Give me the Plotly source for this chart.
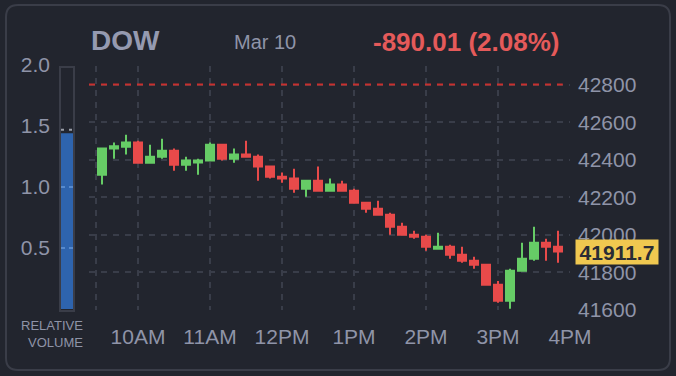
import plotly.graph_objects as go

# ---------------- data ----------------
day = "2025-03-10"
times = ["09:30", "09:40", "09:50", "10:00", "10:10", "10:20", "10:30", "10:40", "10:50",
         "11:00", "11:10", "11:20", "11:30", "11:40", "11:50", "12:00", "12:10", "12:20",
         "12:30", "12:40", "12:50", "13:00", "13:10", "13:20", "13:30", "13:40", "13:50",
         "14:00", "14:10", "14:20", "14:30", "14:40", "14:50", "15:00", "15:10", "15:20",
         "15:30", "15:40", "15:50"]
opens = [42321, 42460, 42470, 42492, 42385, 42417, 42449, 42374, 42386,
         42396, 42481, 42406, 42428, 42417, 42364, 42310, 42300, 42246,
         42289, 42236, 42268, 42236, 42172, 42140, 42108, 42044, 42001,
         41990, 41926, 41937, 41894, 41862, 41841, 41734, 41649, 41809,
         41873, 41958, 41937]
highs = [42460, 42492, 42534, 42502, 42481, 42513, 42460, 42417, 42406,
         42492, 42481, 42460, 42502, 42428, 42364, 42332, 42353, 42289,
         42364, 42300, 42289, 42246, 42172, 42182, 42118, 42065, 42022,
         42001, 42012, 41948, 41937, 41884, 41841, 41755, 41820, 41958,
         42044, 41980, 42022]
lows = [42268, 42406, 42428, 42385, 42385, 42406, 42342, 42342, 42321,
        42396, 42396, 42385, 42417, 42289, 42300, 42278, 42225, 42204,
        42236, 42236, 42236, 42172, 42118, 42108, 42001, 42001, 41980,
        41916, 41926, 41873, 41852, 41820, 41734, 41638, 41606, 41809,
        41862, 41862, 41852]
closes = [42460, 42472, 42492, 42385, 42417, 42449, 42374, 42396, 42396,
          42481, 42406, 42428, 42417, 42364, 42310, 42300, 42246, 42289,
          42236, 42268, 42236, 42172, 42140, 42108, 42044, 42001, 41990,
          41937, 41937, 41894, 41862, 41841, 41734, 41649, 41809, 41873,
          41958, 41937, 41911.7]

hour_ticks = ["09:25", "10:00", "11:00", "12:00", "13:00", "14:00", "15:00", "16:00"]
hour_labels = ["", "10AM", "11AM", "12PM", "1PM", "2PM", "3PM", "4PM"]
price_ticks = [41600, 41800, 42000, 42200, 42400, 42600, 42800]
price_labels = ["41600", "41800", "42000", "42200", "42400", "42600", "42800"]
vol_ticks = [0.5, 1.0, 1.5, 2.0]
vol_labels = ["0.5", "1.0", "1.5", "2.0"]
rel_volume = [1.44]
rel_volume_marker = 1.47
prev_close = 42801.71
last_price = 41911.7
change = -890.01
change_pct = 2.08
symbol = "DOW"
date_label = "Mar 10"

# ---------------- style ----------------
W, H = 676, 376
BG = "#22252e"
BORDER = "#3a3d48"
GRID = "#393d49"
LABEL = "#8f94a8"
GREEN = "#66cc66"
RED = "#e84a4a"
FONT = "Liberation Sans"


def fx(p):
    return p / W


def fy(p):
    return (H - p) / H


x_dates = [f"{day} {t}" for t in times]
tick_dates = [f"{day} {t}" for t in hour_ticks]

fig = go.Figure()
fig.add_trace(go.Candlestick(
    x=x_dates, open=opens, high=highs, low=lows, close=closes,
    increasing=dict(line=dict(color=GREEN, width=2), fillcolor=GREEN),
    decreasing=dict(line=dict(color=RED, width=2), fillcolor=RED),
    whiskerwidth=0, hoverinfo="skip", xaxis="x", yaxis="y", showlegend=False))

fig.add_trace(go.Bar(
    x=[0], y=rel_volume, width=0.75, marker=dict(color="#2e64ae", line=dict(width=0)),
    xaxis="x2", yaxis="y2", hoverinfo="skip", showlegend=False))

# rounded card path
x0, x1, y0, y1, r = 6, 670, 5, 370, 12
path = (f"M {fx(x0 + r)},{fy(y0)} L {fx(x1 - r)},{fy(y0)} "
        f"Q {fx(x1)},{fy(y0)} {fx(x1)},{fy(y0 + r)} "
        f"L {fx(x1)},{fy(y1 - r)} Q {fx(x1)},{fy(y1)} {fx(x1 - r)},{fy(y1)} "
        f"L {fx(x0 + r)},{fy(y1)} Q {fx(x0)},{fy(y1)} {fx(x0)},{fy(y1 - r)} "
        f"L {fx(x0)},{fy(y0 + r)} Q {fx(x0)},{fy(y0)} {fx(x0 + r)},{fy(y0)} Z")

shapes = [
    dict(type="path", path=path, xref="paper", yref="paper",
         line=dict(color=BORDER, width=2), layer="below"),
    dict(type="rect", xref="paper", yref="paper", x0=fx(60), x1=fx(74), y0=fy(311), y1=fy(67),
         line=dict(color=BORDER, width=2), layer="below"),
    dict(type="line", xref="paper", yref="y2", x0=fx(61), x1=fx(73), y0=1.0, y1=1.0,
         line=dict(color="rgba(110,160,225,0.85)", width=1.5, dash="4px,4px"), layer="above"),
    dict(type="line", xref="paper", yref="y2", x0=fx(61), x1=fx(73), y0=0.5, y1=0.5,
         line=dict(color="rgba(110,160,225,0.85)", width=1.5, dash="4px,4px"), layer="above"),
    dict(type="line", xref="paper", yref="y2", x0=fx(61), x1=fx(73),
         y0=rel_volume_marker, y1=rel_volume_marker,
         line=dict(color="#9a9ea8", width=2, dash="3px,5px"), layer="above"),
    dict(type="line", xref="x domain", yref="y", x0=0, x1=0.985, y0=prev_close, y1=prev_close,
         line=dict(color="#c8302e", width=2, dash="6px,6px"), layer="above"),
]

annotations = [
    dict(text=symbol, x=fx(89), y=fy(40), xref="paper", yref="paper", xanchor="left",
         yanchor="middle", showarrow=False,
         font=dict(family=FONT, size=28, color="#959ab0", weight="bold")),
    dict(text=date_label, x=fx(232), y=fy(42), xref="paper", yref="paper", xanchor="left",
         yanchor="middle", showarrow=False, font=dict(family=FONT, size=20, color=LABEL)),
    dict(text=f"{change:.2f} ({change_pct:.2f}%)", x=fx(371), y=fy(42), xref="paper",
         yref="paper", xanchor="left", yanchor="middle", showarrow=False,
         font=dict(family=FONT, size=26, color="#e55a5a", weight="bold")),
    dict(text="RELATIVE<br>VOLUME", x=fx(85), y=fy(334), xref="paper", yref="paper",
         xanchor="right", yanchor="middle", align="right", showarrow=False,
         font=dict(family=FONT, size=13, color=LABEL)),
    dict(text=f"{last_price}", x=fx(575), y=last_price, xref="paper", yref="y",
         xanchor="left", yanchor="middle", showarrow=False, bgcolor="#f0c850",
         borderpad=1, width=80, height=22,
         font=dict(family=FONT, size=21, color="#2a2c35", weight="bold")),
]

fig.update_layout(
    width=W, height=H, autosize=False,
    margin=dict(l=0, r=0, t=0, b=0, pad=0, autoexpand=False),
    paper_bgcolor=BG, plot_bgcolor="rgba(0,0,0,0)",
    boxgap=0.333, boxgroupgap=0,
    showlegend=False, shapes=shapes, annotations=annotations,
    font=dict(family=FONT, color=LABEL, size=21),
    xaxis=dict(type="date", domain=[fx(89), fx(570)],
               range=[f"{day} 09:19:10", f"{day} 16:00"],
               tickvals=tick_dates, ticktext=hour_labels, ticks="",
               showgrid=True, gridcolor=GRID, gridwidth=2, griddash="6px,6px",
               zeroline=False, showline=False, rangeslider=dict(visible=False),
               tickfont=dict(family=FONT, size=21, color=LABEL),
               ticklabelstandoff=12, anchor="y", automargin=False),
    yaxis=dict(domain=[fy(310), fy(66)], range=[41600, 42900], side="right",
               tickvals=price_ticks, ticktext=price_labels, ticks="", showgrid=True,
               gridcolor=GRID, gridwidth=2,
               griddash="6px,6px", zeroline=False, showline=False,
               tickfont=dict(family=FONT, size=21, color=LABEL),
               ticklabelstandoff=7, anchor="x", automargin=False),
    xaxis2=dict(domain=[fx(59), fx(75)], range=[-0.5, 0.5], visible=False, anchor="y2",
                automargin=False),
    yaxis2=dict(domain=[fy(309), fy(65)], range=[0, 2], side="left", tickvals=vol_ticks,
                ticktext=vol_labels, ticks="", showgrid=False, zeroline=False, showline=False,
                tickfont=dict(family=FONT, size=21, color=LABEL),
                ticklabelstandoff=8, anchor="x2", automargin=False),
)

fig.write_html(
    "out.html",
    post_script="document.body.style.margin='0';document.body.style.overflow='hidden';",
)
